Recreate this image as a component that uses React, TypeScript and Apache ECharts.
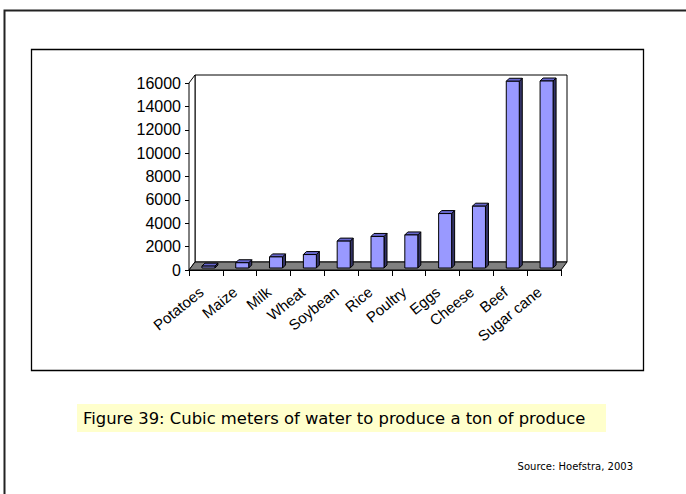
import React, { useEffect, useRef } from "react";
import * as echarts from "echarts";

const categories = ["Potatoes", "Maize", "Milk", "Wheat", "Soybean", "Rice", "Poultry", "Eggs", "Cheese", "Beef", "Sugar cane"];
const waterM3PerTon = [160, 450, 950, 1150, 2300, 2700, 2828, 4657, 5288, 15977, 16000];
const yMin = 0;
const yMax = 16000;
const yInterval = 2000;
const caption = "Figure 39: Cubic meters of water to produce a ton of produce";
const sourceNote = "Source: Hoefstra, 2003";

const DEPTH_X = 6;
const DEPTH_Y = -8;

export default function App() {
  const ref = useRef<HTMLDivElement>(null);
  useEffect(() => {
    if (!ref.current) return;
    const chart = echarts.init(ref.current, null, { renderer: "svg" });
    const axisFont = "'Liberation Sans', Arial, sans-serif";
    const comic = "'Comic Sans MS', 'DejaVu Sans', sans-serif";

    const wallsRender = (params: any, api: any) => {
      const cs = params.coordSys;
      const x = cs.x, y = cs.y, w = cs.width, h = cs.height;
      const st = { stroke: "#000", lineWidth: 1 };
      return {
        type: "group",
        children: [
          {
            type: "polygon",
            shape: { points: [[x + DEPTH_X, y + DEPTH_Y], [x + w + DEPTH_X, y + DEPTH_Y], [x + w + DEPTH_X, y + h + DEPTH_Y], [x + DEPTH_X, y + h + DEPTH_Y]] },
            style: { fill: "#fff", ...st },
          },
          {
            type: "polygon",
            shape: { points: [[x, y], [x + DEPTH_X, y + DEPTH_Y], [x + DEPTH_X, y + h + DEPTH_Y], [x, y + h]] },
            style: { fill: "#fff", ...st },
          },
          {
            type: "polygon",
            shape: { points: [[x, y + h], [x + w, y + h], [x + w + DEPTH_X, y + h + DEPTH_Y], [x + DEPTH_X, y + h + DEPTH_Y]] },
            style: { fill: "#808080", ...st },
          },
        ],
      };
    };

    const barRender = (params: any, api: any) => {
      const top = api.coord([api.value(0), api.value(1)]);
      const base = api.coord([api.value(0), 0]);
      const bw = 13;
      const ox = 2.5, oy = -2;
      const dx = 3, dy = -3;
      const l = top[0] - bw / 2 + ox;
      const r = l + bw;
      const t = top[1] + oy;
      const b = base[1] + oy;
      const st = { stroke: "#000", lineWidth: 1 };
      return {
        type: "group",
        children: [
          { type: "polygon", shape: { points: [[r, t], [r + dx, t + dy], [r + dx, b + dy], [r, b]] }, style: { fill: "#333366", ...st } },
          { type: "polygon", shape: { points: [[l, t], [l + dx, t + dy], [r + dx, t + dy], [r, t]] }, style: { fill: "#6666cc", ...st } },
          { type: "polygon", shape: { points: [[l, t], [r, t], [r, b], [l, b]] }, style: { fill: "#9999ff", ...st } },
        ],
      };
    };

    chart.setOption({
      animation: false,
      backgroundColor: "#fff",
      grid: { left: 189, right: 125, top: 83, bottom: 224, containLabel: false },
      xAxis: {
        type: "category",
        data: categories,
        axisLine: { show: true, lineStyle: { color: "#000", width: 1 } },
        axisTick: { show: true, length: 6, lineStyle: { color: "#000" } },
        axisLabel: { rotate: 39, fontSize: 15, color: "#000", fontFamily: axisFont, margin: 16, padding: [0, 6, 0, 0], interval: 0 },
        splitLine: { show: false },
      },
      yAxis: {
        type: "value",
        min: yMin,
        max: yMax,
        interval: yInterval,
        axisLine: { show: true, lineStyle: { color: "#000", width: 1 } },
        axisTick: { show: true, length: 4, lineStyle: { color: "#000" } },
        axisLabel: { fontSize: 16, color: "#000", fontFamily: axisFont, margin: 8, formatter: (v: number) => String(v) },
        splitLine: { show: false },
      },
      series: [
        { type: "custom", renderItem: wallsRender, data: [[0, 0]], clip: false, z: 1, silent: true },
        { type: "custom", renderItem: barRender, data: categories.map((c, i) => [i, waterM3PerTon[i]]), clip: false, z: 3 },
      ],
      graphic: [
        { type: "polyline", shape: { points: [[4.5, 494], [4.5, 10.5], [686, 10.5]] }, style: { stroke: "#222", lineWidth: 2, fill: "none" }, z: 10 },
        { type: "rect", shape: { x: 31.5, y: 49.5, width: 612, height: 321 }, style: { stroke: "#000", lineWidth: 1.3, fill: "none" }, z: 10 },
        { type: "rect", shape: { x: 77, y: 404, width: 529, height: 28 }, style: { fill: "#ffffcc" }, z: 5 },
        { type: "text", x: 83, y: 418, style: { text: caption, fontSize: 16.4, fontFamily: comic, fill: "#000", verticalAlign: "middle", textAlign: "left" }, z: 6 },
        { type: "text", x: 633, y: 466, style: { text: sourceNote, fontSize: 10, fontFamily: comic, fill: "#000", verticalAlign: "middle", textAlign: "right" }, z: 6 },
      ],
    });
    return () => chart.dispose();
  }, []);
  return <div ref={ref} style={{ position: "absolute", left: 0, top: 0, width: 686, height: 494 }} />;
}
